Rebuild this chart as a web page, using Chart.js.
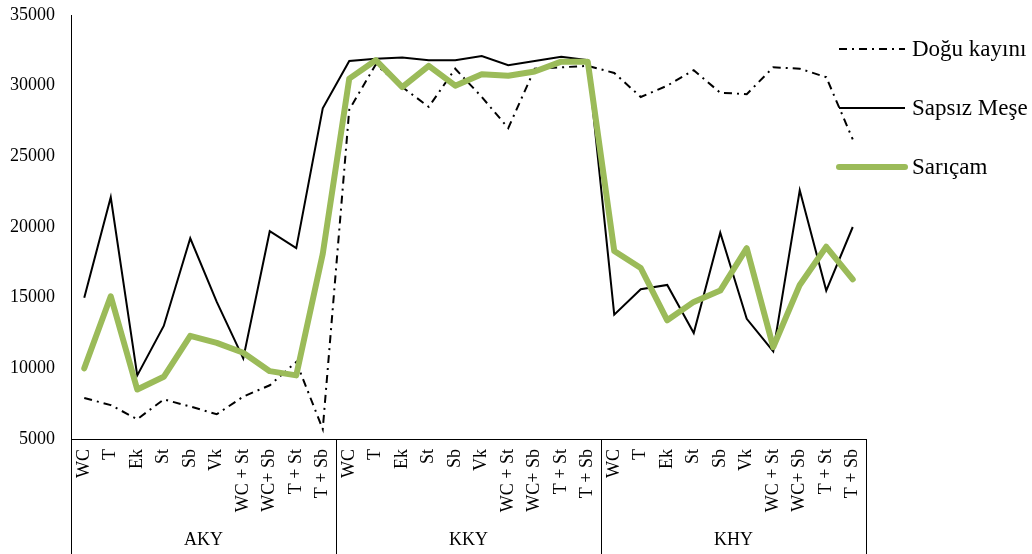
<!DOCTYPE html>
<html>
<head>
<meta charset="utf-8">
<script src="https://cdn.jsdelivr.net/npm/chart.js@4/dist/chart.umd.min.js"></script>
<style>
  html, body { margin: 0; padding: 0; background: #fff; }
  #wrap { width: 1032px; height: 554px; }
</style>
</head>
<body>
<div id="wrap"><canvas id="chart"></canvas></div>
<script>
const treatments = ['WC', 'T', 'Ek', 'St', 'Sb', 'Vk', 'WC + St', 'WC+ Sb', 'T + St', 'T + Sb']
const sites = ['AKY', 'KKY', 'KHY']
const categories = sites.flatMap(() => treatments)

const doguKayini = [7900, 7400, 6400, 7800, 7300, 6750, 8000, 8800, 10450, 5700,
                    28300, 31500, 29900, 28500, 31200, 29200, 27000, 31200, 31300, 31400,
                    30900, 29200, 30000, 31100, 29500, 29400, 31300, 31200, 30600, 26200]
const sapsizMese = [15000, 22100, 9500, 13000, 19200, 14700, 10700, 19700, 18500, 28400,
                    31750, 31900, 32000, 31800, 31800, 32100, 31450, 31750, 32050, 31800,
                    13800, 15600, 15900, 12500, 19600, 13500, 11200, 22600, 15500, 20000]
const saricam = [10000, 15100, 8500, 9400, 12300, 11800, 11100, 9800, 9500, 18100,
                 30500, 31800, 29900, 31400, 30000, 30800, 30700, 31000, 31700, 31700,
                 18300, 17100, 13400, 14700, 15500, 18500, 11500, 15900, 18600, 16300]

const green = 'rgb(155, 187, 89)'
const dashDot = [8, 5, 2, 5]
const serif = '"Liberation Serif", "Times New Roman", serif'

const legendItems = [
  { label: 'Doğu kayını', color: '#000', width: 2, dash: dashDot },
  { label: 'Sapsız Meşe', color: '#000', width: 2, dash: [] },
  { label: 'Sarıçam', color: green, width: 6, dash: [] }
]

// group boxes under the axis + legend on the right
const extras = {
  id: 'extras',
  afterDraw(chart) {
    const { ctx, scales: { x }, chartArea } = chart
    const step = x.getPixelForValue(1) - x.getPixelForValue(0)
    ctx.save()
    ctx.strokeStyle = '#000'
    ctx.lineWidth = 1
    ctx.fillStyle = '#000'
    ctx.font = '18px ' + serif
    ctx.textAlign = 'center'
    ctx.textBaseline = 'middle'
    sites.forEach((s, i) => {
      const l = x.getPixelForValue(i * treatments.length) - step / 2
      const r = x.getPixelForValue((i + 1) * treatments.length - 1) + step / 2
      ;[l, r].forEach(px => {
        ctx.beginPath()
        ctx.moveTo(Math.round(px) + 0.5, chartArea.bottom)
        ctx.lineTo(Math.round(px) + 0.5, chart.height)
        ctx.stroke()
      })
      ctx.fillText(s, (l + r) / 2, 540)
    })

    ctx.font = '23px ' + serif
    ctx.textAlign = 'left'
    legendItems.forEach((it, i) => {
      const y = [49, 108, 167][i]
      ctx.beginPath()
      ctx.strokeStyle = it.color
      ctx.lineWidth = it.width
      ctx.lineCap = it.width > 3 ? 'round' : 'butt'
      ctx.setLineDash(it.dash)
      ctx.moveTo(839, y)
      ctx.lineTo(905, y)
      ctx.stroke()
      ctx.setLineDash([])
      ctx.fillText(it.label, 912, y + 1)
    })
    ctx.restore()
  }
}

new Chart(document.getElementById('chart').getContext('2d'), {
  type: 'line',
  data: {
    labels: categories,
    datasets: [
      { label: 'Sarıçam', data: saricam, borderColor: green, borderWidth: 6,
        borderCapStyle: 'round', borderJoinStyle: 'round' },
      { label: 'Sapsız Meşe', data: sapsizMese, borderColor: '#000', borderWidth: 2 },
      { label: 'Doğu kayını', data: doguKayini, borderColor: '#000', borderWidth: 2, borderDash: dashDot }
    ]
  },
  options: {
    responsive: true,
    maintainAspectRatio: false,
    animation: false,
    elements: { point: { radius: 0 }, line: { tension: 0, fill: false } },
    layout: { padding: { top: 15, right: 166, left: 0, bottom: 0 } },
    plugins: { legend: { display: false }, tooltip: { enabled: false } },
    scales: {
      x: {
        offset: true,
        grid: { display: false, drawTicks: false },
        border: { display: true, color: '#000', width: 1 },
        ticks: { color: '#000', font: { family: serif, size: 18 }, minRotation: 90, maxRotation: 90, padding: 10, autoSkip: false },
        afterFit: s => { s.height = 115; s.paddingTop = 0; s.paddingBottom = 0 }
      },
      y: {
        min: 5000, max: 35000,
        grid: { display: false, drawTicks: false },
        border: { display: true, color: '#000', width: 1 },
        ticks: { stepSize: 5000, color: '#000', font: { family: serif, size: 18 }, padding: 16,
                 callback: v => String(v) },
        afterFit: s => { s.width = 71; s.paddingTop = 0; s.paddingBottom = 0 }
      }
    }
  },
  plugins: [extras]
})
</script>
</body>
</html>
